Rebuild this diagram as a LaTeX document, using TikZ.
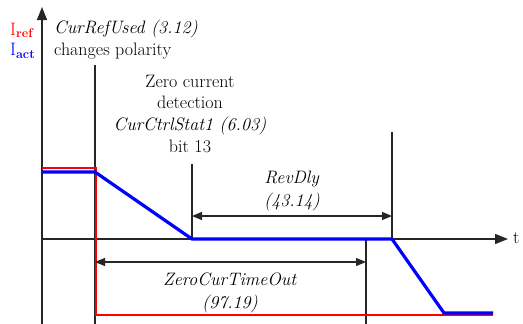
\documentclass[tikz,border=0pt]{standalone}
\usetikzlibrary{arrows.meta}
\begin{document}
\begin{tikzpicture}[
    x=1pt, y=-1pt,
    font=\fontsize{18}{22}\selectfont,
    lbl/.style={inner sep=0pt, text=black},
    axis/.style={line width=1.5pt, black!85, -{Triangle[length=13pt,width=10pt]}},
    marker/.style={line width=1.1pt, black!85},
    dim/.style={line width=1.1pt, black!85, {Triangle[length=10pt,width=8pt]}-{Triangle[length=10pt,width=8pt]}},
    iref/.style={line width=2.2pt, red},
    iact/.style={line width=3.2pt, blue}
]
    \useasboundingbox (0,0) rectangle (523,324);

    % axes
    \coordinate (o) at (42,239);
    \coordinate (ybot) at (42,324);
    \coordinate (ytop) at (42,7);
    \coordinate (tend) at (508,239);
    \draw[axis] (ybot) -- (ytop);
    \draw[axis] (o) -- (tend);
    \node[lbl, anchor=west] (t) at (513,238) {t};
    \node[lbl, anchor=base west, text=red] (irefl) at (10,35) {I\textsubscript{\textbf{ref}}};
    \node[lbl, anchor=base west, text=blue] (iactl) at (10,56) {I\textsubscript{\textbf{act}}};

    % markers
    \coordinate (m1top) at (95,65);   \coordinate (m1bot) at (95,324);
    \coordinate (m2top) at (192,164); \coordinate (m2bot) at (192,239);
    \coordinate (m3top) at (392,132); \coordinate (m3bot) at (392,239);
    \coordinate (m4top) at (366,239); \coordinate (m4bot) at (366,324);
    \draw[marker] (m1top) -- (m1bot);
    \draw[marker] (m2top) -- (m2bot);
    \draw[marker] (m3top) -- (m3bot);
    \draw[marker] (m4top) -- (m4bot);

    % signals
    \draw[iref] (42,168) -- (96,168) -- (96,315) -- (493,315);
    \draw[iact] (42,172) -- (95,172) -- (192,239) -- (392,239) -- (444,313) -- (493,313);

    % dimensions
    \coordinate (rd1) at (192,216); \coordinate (rd2) at (392,216);
    \coordinate (zc1) at (95,262);  \coordinate (zc2) at (366,262);
    \draw[dim] (rd1) -- (rd2);
    \draw[dim] (zc1) -- (zc2);

    \node[lbl, anchor=base west] (cru) at (54,33) {\textit{CurRefUsed (3.12)}};
    \node[lbl, anchor=base west] (pol) at (54,55) {changes polarity};
    \node[lbl, anchor=base] (zc) at (190,87) {Zero current};
    \node[lbl, anchor=base] (det) at (190,108) {detection};
    \node[lbl, anchor=base] (ccs) at (190,130) {\textit{CurCtrlStat1 (6.03)}};
    \node[lbl, anchor=base] (bit) at (190,152) {bit 13};
    \node[lbl, anchor=base] (rev) at (292,183) {\textit{RevDly}};
    \node[lbl, anchor=base] (revv) at (292,206) {\textit{(43.14)}};
    \node[lbl, anchor=base] (zto) at (230,285) {\textit{ZeroCurTimeOut}};
    \node[lbl, anchor=base] (ztov) at (230,308) {\textit{(97.19)}};
\end{tikzpicture}
\end{document}
